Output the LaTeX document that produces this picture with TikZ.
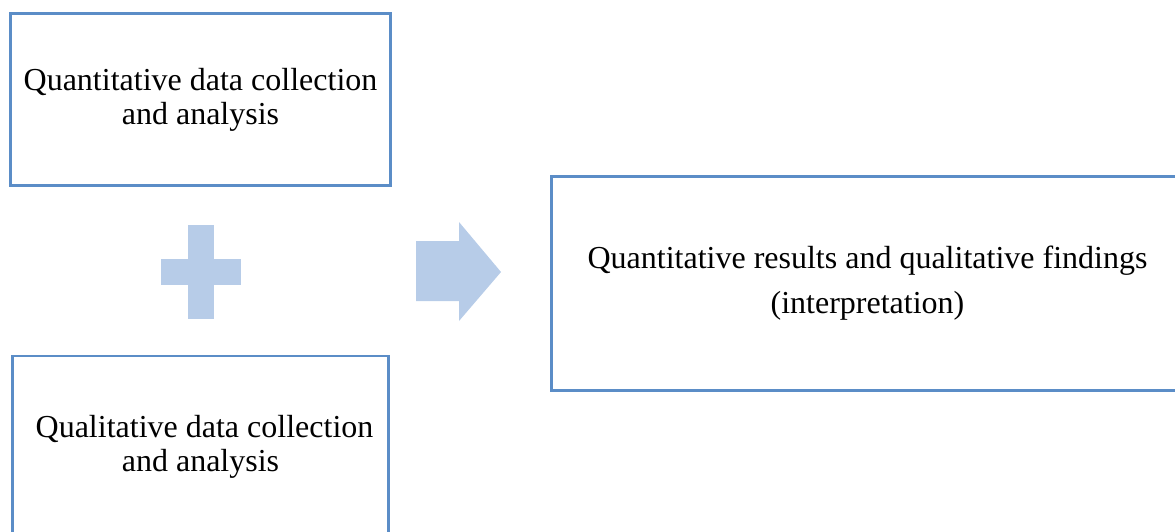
\documentclass[tikz,border=0pt]{standalone}
\usepackage{fontspec}
\setmainfont{Liberation Serif}
\usepackage{tikz}
\usetikzlibrary{positioning}
\definecolor{framecolor}{RGB}{91,141,199}
\definecolor{shapecolor}{RGB}{183,204,232}

\begin{document}
\begin{tikzpicture}[x=1pt, y=-1pt,
  box/.style={draw=framecolor, line width=2.5pt, inner sep=0pt, align=center, font=\fontsize{32}{34}\selectfont},
  mark shape/.style={fill=shapecolor, draw=none},
]
\useasboundingbox (0,0) rectangle (1175,531);
\clip (0,0) rectangle (1175,531);
% Input boxes
\node[box, minimum width=380, minimum height=172] (quan) at (200.5,99.5) {Quantitative data collection\\and analysis};
\node[box, minimum width=376, minimum height=182] (qual) at (200.5,447) {\ Qualitative data collection\\and analysis};
% Result box
\node[box, minimum width=632, minimum height=214] (result) at (867.5,283.5) {Quantitative results and qualitative findings\\[11pt](interpretation)};
% Plus sign
\fill[mark shape] (188,225) rectangle (214,319);
\fill[mark shape] (161,259) rectangle (241,285);
% Block arrow
\fill[mark shape] (416,241) -- (459,241) -- (459,222) -- (501,272) -- (459,321) -- (459,301) -- (416,301) -- cycle;
\end{tikzpicture}
\end{document}
